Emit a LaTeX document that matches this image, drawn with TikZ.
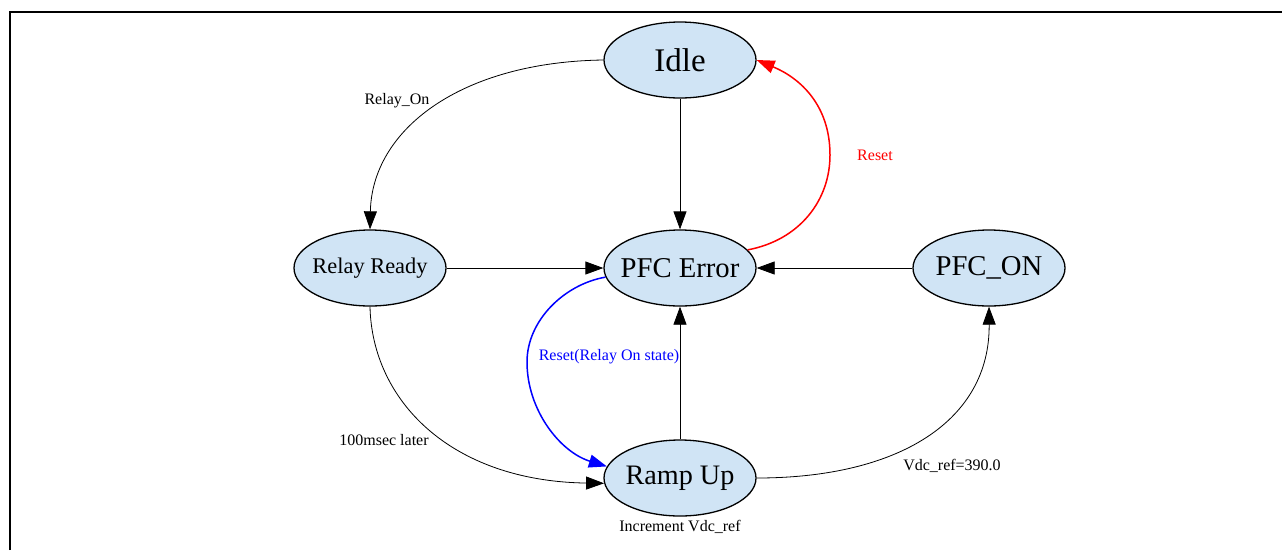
\documentclass[tikz,border=0pt]{standalone}
\usepackage{fontspec}
\setmainfont{Liberation Serif}
\usetikzlibrary{shapes.geometric,arrows.meta}
\definecolor{nodefill}{RGB}{208,228,245}
\definecolor{edgered}{RGB}{255,0,0}
\definecolor{edgeblue}{RGB}{0,0,255}
\newcommand{\ztext}[1]{\makebox[0pt]{#1}}
\begin{document}
\begin{tikzpicture}[x=1pt,y=-1pt,
  state/.style={ellipse, draw=black, line width=1.3pt, fill=nodefill,
    minimum width=152pt, minimum height=76pt, inner sep=0pt},
  edge/.style={draw=black, line width=0.8pt, -{Triangle[length=18pt,width=13pt]}},
  lbl/.style={font=\fontsize{16}{18}\selectfont, inner sep=0pt}]
\useasboundingbox (0,0) rectangle (1282,550);
\fill[white] (0,0) rectangle (1282,550);
\draw[line width=2pt] (10,550) -- (10,12) -- (1282,12);

\node[state, font=\fontsize{33}{36}\selectfont] (idle) at (680,60) {\ztext{Idle}};
\node[state, font=\fontsize{22.4}{24}\selectfont] (rr) at (370,268) {\ztext{Relay Ready}};
\node[state, font=\fontsize{28.7}{30}\selectfont] (pe) at (680,268) {\ztext{PFC Error}};
\node[state, font=\fontsize{28.7}{30}\selectfont] (on) at (989,268) {\ztext{PFC\_ON}};
\node[state, font=\fontsize{28.2}{30}\selectfont] (ru) at (680,478) {\ztext{Ramp Up}};

% edges
\draw[edge] (idle.west) .. controls (460,62) and (372,130) .. (rr.north);
\draw[edge] (idle.south) -- (pe.north);
\draw[edge, draw=edgered, line width=1.5pt, -{Triangle[length=18pt,width=13pt,fill=edgered]}]
  (pe.15) .. controls (800,240) and (830,200) .. (830,155)
  .. controls (830,105) and (800,78) .. (idle.east);
\draw[edge] (rr.east) -- (pe.west);
\draw[edge] (on.west) -- (pe.east);
\draw[edge, draw=edgeblue, line width=1.5pt, -{Triangle[length=18pt,width=13pt,fill=edgeblue]}]
  (pe.187) .. controls (565,284) and (527,320) .. (527,362)
  .. controls (527,410) and (560,452) .. (ru.171);
\draw[edge] (ru.north) -- (pe.south);
\draw[edge] (rr.south) .. controls (372,400) and (450,481) .. (ru.184);
\draw[edge] (ru.east) .. controls (900,478) and (990,420) .. (on.south);

% labels
\node[lbl] (lrelayon) at (397,101) {Relay\_On};
\node[lbl, text=edgered] (lreset) at (875,155) {Reset};
\node[lbl, text=edgeblue] (lresetro) at (609,357) {Reset(Relay On state)};
\node[lbl] (l100) at (384,440) {100msec later};
\node[lbl] (lvdc) at (952,466) {Vdc\_ref=390.0};
\node[lbl] (linc) at (680,527) {Increment Vdc\_ref};
\end{tikzpicture}
\end{document}
